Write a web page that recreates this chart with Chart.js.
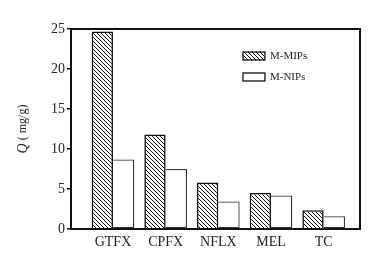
<!DOCTYPE html>
<html><head><meta charset="utf-8">
<script src="https://cdn.jsdelivr.net/npm/chart.js@4/dist/chart.umd.min.js"></script>
<style>html,body{margin:0;padding:0;background:#fff}#wrap{width:385px;height:265px}</style>
</head><body><div id="wrap"><canvas id="c"></canvas></div>
<script>
const categories = ['GTFX','CPFX','NFLX','MEL','TC'];
const mmips = [24.7, 11.8, 5.8, 4.5, 2.35];
const mnips = [8.7, 7.5, 3.45, 4.2, 1.6];
const seriesNames = ['M-MIPs','M-NIPs'];
const yTicks = [0,5,10,15,20,25];

function hatch(){
  const p = document.createElement('canvas'); p.width = 4; p.height = 4;
  const g = p.getContext('2d');
  g.fillStyle = '#fff'; g.fillRect(0,0,4,4);
  g.strokeStyle = '#111'; g.lineWidth = 1;
  g.beginPath(); g.moveTo(-1,-1); g.lineTo(5,5); g.moveTo(-1,3); g.lineTo(1,5); g.moveTo(3,-1); g.lineTo(5,1); g.stroke();
  return g.createPattern(p,'repeat');
}
const ctx = document.getElementById('c').getContext('2d');
const pat = hatch();
const serif = "'Liberation Serif','DejaVu Serif',serif";

const framePlugin = {
  id:'frame',
  afterDraw(chart){
    const a = chart.chartArea, g = chart.ctx;
    g.save();
    g.strokeStyle = '#111'; g.lineWidth = 2;
    g.strokeRect(a.left, a.top, a.right-a.left, a.bottom-a.top);
    // legend
    const lx = a.left + (a.right-a.left)*0.595, ly = a.top + (a.bottom-a.top)*0.135, gap = 21;
    const fills = [pat, '#fff'];
    g.font = "11px " + serif; g.textBaseline = 'middle'; g.fillStyle = '#222';
    seriesNames.forEach((n,i)=>{
      const y = ly + i*gap;
      g.fillStyle = fills[i]; g.fillRect(lx, y-4, 22, 8);
      g.strokeStyle = '#111'; g.lineWidth = 1.3; g.strokeRect(lx, y-4, 22, 8);
      g.fillStyle = '#222'; g.fillText(n, lx+27, y);
    });
    // y title
    g.translate(23, (a.top+a.bottom)/2);
    g.rotate(-Math.PI/2);
    g.textBaseline = 'middle';
    g.font = "italic 14px " + serif;
    const w1 = g.measureText('Q').width;
    g.font = "12px " + serif;
    const rest = ' ( mg/g)';
    const w2 = g.measureText(rest).width;
    const start = -(w1+w2)/2;
    g.font = "italic 14px " + serif; g.textAlign='left';
    g.fillText('Q', start, 0);
    g.font = "12px " + serif;
    g.fillText(rest, start+w1, 0);
    g.restore();
  }
};

new Chart(ctx, {
  type:'bar',
  data:{
    datasets:[
      {label:seriesNames[0], data: categories.map((c,i)=>({x:i,y:mmips[i]})), backgroundColor: pat, borderColor:'#111', borderWidth:1.6, borderSkipped:'bottom'},
      {label:seriesNames[1], data: categories.map((c,i)=>({x:i,y:mnips[i]})), backgroundColor:'#fff', borderColor:'#333', borderWidth:1.3, borderSkipped:'left'}
    ]
  },
  options:{
    responsive:true, maintainAspectRatio:false, animation:false,
    layout:{padding:{left:0, top:29, right:25, bottom:0}},
    categoryPercentage:0.81, barPercentage:1.0,
    plugins:{legend:{display:false}, tooltip:{enabled:false}},
    scales:{
      x:{type:'linear', min:-0.797, max:4.69, offset:false,
        afterBuildTicks(ax){ ax.ticks = categories.map((c,i)=>({value:i})); },
        afterFit(s){ s.height = 36; },
        grid:{display:false, drawTicks:false}, border:{display:false},
        ticks:{padding:5, color:'#222', font:{family:serif, size:14}, autoSkip:false, maxRotation:0,
          callback:(v)=>categories[v] ?? ''}
      },
      y:{min:0, max:25,
        afterBuildTicks(ax){ ax.ticks = yTicks.map(v=>({value:v})); },
        afterFit(s){ s.width = 71; },
        grid:{drawOnChartArea:false, drawTicks:true, tickLength:4, color:'#111', lineWidth:1.5},
        border:{display:false},
        ticks:{padding:2, color:'#222', font:{family:serif, size:14}}
      }
    }
  },
  plugins:[framePlugin]
});
</script></body></html>
